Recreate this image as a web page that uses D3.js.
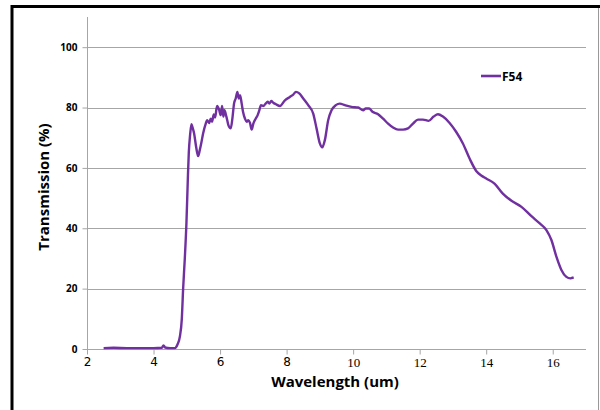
<!DOCTYPE html>
<html><head><meta charset="utf-8">
<script src="https://cdn.jsdelivr.net/npm/d3@7"></script>
<style>body{margin:0;background:#fff}svg{display:block}</style>
</head><body><div id="c"></div>
<script>
const seriesName = "F54";
const wavelength = [2.5,2.8,3.2,3.6,4.0,4.25,4.3,4.35,4.5,4.64,4.72,4.79,4.85,4.89,4.94,4.99,5.03,5.06,5.1,5.14,5.17,5.22,5.28,5.34,5.39,5.44,5.49,5.57,5.61,5.67,5.72,5.76,5.81,5.85,5.91,5.97,6.02,6.06,6.1,6.13,6.19,6.25,6.32,6.37,6.42,6.47,6.52,6.56,6.6,6.65,6.69,6.75,6.8,6.85,6.9,6.95,7.0,7.07,7.13,7.18,7.23,7.3,7.37,7.43,7.48,7.54,7.6,7.68,7.8,7.95,8.1,8.2,8.28,8.38,8.5,8.65,8.8,8.9,9.0,9.07,9.15,9.25,9.35,9.48,9.6,9.75,9.95,10.15,10.3,10.38,10.48,10.58,10.75,10.9,11.05,11.2,11.35,11.5,11.65,11.8,11.95,12.1,12.27,12.42,12.55,12.7,12.9,13.1,13.3,13.5,13.7,13.85,14.0,14.25,14.5,14.76,15.06,15.36,15.61,15.81,15.96,16.11,16.26,16.41,16.53,16.63];
const transmission = [0.3,0.4,0.3,0.3,0.3,0.4,1.2,0.5,0.3,0.3,1.5,4,10,20,30,42,56,65,71,74.5,73.5,71.4,67,63.9,65.9,68.5,71.4,74.7,75.8,74.9,76.3,75.3,77.7,76.7,80.5,79.3,77.5,80.5,77,79.1,77,74.2,73.1,76.3,81.3,83,85.2,83,84.1,81.3,78.6,76.3,75.3,75.8,74.9,72.7,74.7,76.3,77.5,79.1,80.8,80.5,81.3,81.9,81.3,82.2,81.6,81.1,80.5,82.4,83.5,84.3,85.2,84.7,83,80.8,78,73.1,68.1,66.8,69.2,75.8,79.1,80.8,81.3,80.8,80.2,80,79.1,79.7,79.7,78.6,77.8,76.3,74.7,73.4,72.7,72.7,73.1,74.7,76,76,75.6,77,77.8,77,74.9,71.9,68.1,63.1,59,57.5,56.5,54.8,51.5,49.1,47.1,44,41.6,39.4,36.1,30.6,26.2,23.9,23.4,23.7];
const xTicks = [2,4,6,8,10,12,14,16];
const yTicks = [0,20,40,60,80,100];
const xTitle = "Wavelength (um)";
const yTitle = "Transmission (%)";

const W = 600, H = 410;
const svg = d3.select("#c").append("svg").attr("width", W).attr("height", H);

// outer frame
svg.append("line").attr("x1",11).attr("x2",600).attr("y1",6.5).attr("y2",6.5).attr("stroke","#000").attr("stroke-width",3);
svg.append("line").attr("x1",12).attr("x2",12).attr("y1",5).attr("y2",410).attr("stroke","#000").attr("stroke-width",3);
svg.append("line").attr("x1",598.5).attr("x2",598.5).attr("y1",8).attr("y2",410).attr("stroke","#999").attr("stroke-width",1);

const x = d3.scaleLinear().domain([2,17]).range([87,586]);
const y = d3.scaleLinear().domain([0,110]).range([349,17]);

// gridlines
svg.append("g").selectAll("line").data(yTicks.filter(d=>d>0)).join("line")
  .attr("x1",87).attr("x2",586).attr("y1",d=>Math.round(y(d))+0.5).attr("y2",d=>Math.round(y(d))+0.5)
  .attr("stroke","#a6a6a6").attr("stroke-width",1);

// y axis
const yAxis = svg.append("g").attr("transform","translate(87.5,0)")
  .call(d3.axisLeft(y).tickValues(yTicks).tickSize(5).tickPadding(5).tickFormat(d3.format("d")));
yAxis.select(".domain").attr("stroke","#a6a6a6").attr("d","M0,17V349.5");
yAxis.selectAll(".tick line").attr("stroke","#a6a6a6");
yAxis.selectAll(".tick text").attr("font-family","'Open Sans', sans-serif").attr("font-weight","bold")
  .attr("font-size",10).attr("fill","#000");

// x axis
const xAxis = svg.append("g").attr("transform","translate(0,349.5)")
  .call(d3.axisBottom(x).tickValues(xTicks).tickSize(5).tickPadding(3).tickFormat(d3.format("d")));
xAxis.select(".domain").attr("stroke","#a6a6a6").attr("d","M87,0H586");
xAxis.selectAll(".tick line").attr("stroke","#a6a6a6");
xAxis.selectAll(".tick text").attr("fill","#000")
  .attr("font-family", d => d < 10 ? "'DejaVu Sans', sans-serif" : "'Liberation Serif', serif")
  .attr("font-size", d => d < 10 ? 12 : 13);

// titles
svg.append("text").attr("x",335).attr("y",387).attr("text-anchor","middle")
  .attr("font-family","'Open Sans', sans-serif").attr("font-weight","bold").attr("font-size",15)
  .attr("fill","#000").text(xTitle);
svg.append("text").attr("transform","translate(49,187) rotate(-90)").attr("text-anchor","middle")
  .attr("font-family","'Open Sans', sans-serif").attr("font-weight","bold").attr("font-size",15)
  .attr("fill","#000").text(yTitle);

// series
const data = wavelength.map((w,i)=>({w, t: transmission[i]}));
const line = d3.line().x(d=>x(d.w)).y(d=>y(d.t)).curve(d3.curveMonotoneX);
svg.append("path").datum(data).attr("d",line).attr("fill","none")
  .attr("stroke","#7030a0").attr("stroke-width",2.4).attr("stroke-linejoin","round");

// legend
svg.append("line").attr("x1",481).attr("x2",501).attr("y1",76).attr("y2",76)
  .attr("stroke","#7030a0").attr("stroke-width",2.6);
svg.append("text").attr("x",502).attr("y",80.5)
  .attr("font-family","'Open Sans', sans-serif").attr("font-weight","bold").attr("font-size",12)
  .attr("fill","#000").text(seriesName);
</script></body></html>
